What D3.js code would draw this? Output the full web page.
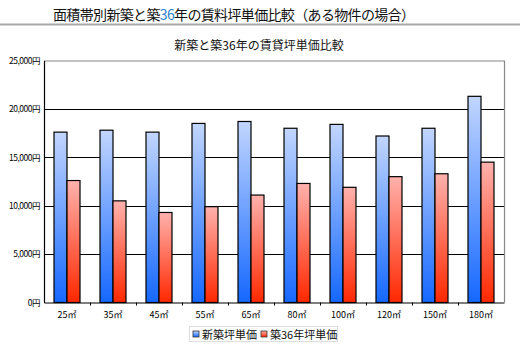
<!DOCTYPE html>
<html><head><meta charset="utf-8">
<script src="https://cdn.jsdelivr.net/npm/d3@7"></script>
<style>
html,body{margin:0;padding:0;background:#fff;}
svg{display:block;}
text{font-family:"Noto Sans CJK JP","Liberation Sans",sans-serif;}
</style></head>
<body>
<script>
const categories = ["25㎡","35㎡","45㎡","55㎡","65㎡","80㎡","100㎡","120㎡","150㎡","180㎡"];
const newBuild = [17600,17800,17600,18500,18700,18000,18400,17200,18000,21300];
const aged36 = [12600,10500,9300,9900,11100,12300,11900,13000,13300,14500];
const seriesNames = ["新築坪単価","築36年坪単価"];
const yTicks = [0,5000,10000,15000,20000,25000];

(function(){
const W = 520, H = 347;
const svg = d3.select("body").append("svg").attr("width", W).attr("height", H);

const defs = svg.append("defs");
function grad(id, c1, c2){
  const g = defs.append("linearGradient").attr("id", id).attr("x1",0).attr("y1",0).attr("x2",0).attr("y2",1);
  g.append("stop").attr("offset","0%").attr("stop-color",c1);
  g.append("stop").attr("offset","100%").attr("stop-color",c2);
}
grad("gBlue", "#c2d6ff", "#1568ff");
grad("gRed", "#ffb2ad", "#ff2800");

// page title
const title = svg.append("text").attr("x", 53).attr("y", 20).attr("font-size", 14)
  .attr("fill", "#111").attr("textLength", 362).attr("lengthAdjust", "spacing");
title.append("tspan").text("面積帯別新築と築");
title.append("tspan").attr("fill", "#2a7fd0").text("36");
title.append("tspan").text("年の賃料坪単価比較（ある物件の場合）");
svg.append("rect").attr("x",0).attr("y",23.5).attr("width",W).attr("height",2).attr("fill","#a8a8a8");

// chart title
svg.append("text").attr("x", 259).attr("y", 50).attr("text-anchor","middle")
  .attr("font-size", 12).attr("fill","#111").text("新築と築36年の賃貸坪単価比較");

const pL = 44, pR = 504, pT = 60.5, pB = 302.5;
const x = d3.scaleBand().domain(categories).range([pL, pR]).paddingInner(0).paddingOuter(0);
const y = d3.scaleLinear().domain([0, 25000]).range([pB, pT]);
const bw = 13;

// gridlines
svg.append("g").selectAll("line").data(yTicks.filter(d => d > 0 && d < 25000)).join("line")
  .attr("x1", pL).attr("x2", pR).attr("y1", d => Math.round(y(d))+0.5).attr("y2", d => Math.round(y(d))+0.5)
  .attr("stroke","#000").attr("stroke-width",1.2);
// top & right border gray
svg.append("path").attr("d", `M${pL},${pT+0.5}H${pR+0.5}V${pB}`)
  .attr("fill","none").attr("stroke","#888").attr("stroke-width",1.2);

// bars
const grp = svg.append("g");
categories.forEach((c, i) => {
  const cx = x(c) + x.bandwidth()/2;
  grp.append("rect").attr("x", cx - bw).attr("y", y(newBuild[i])).attr("width", bw)
    .attr("height", y(0) - y(newBuild[i])).attr("fill","url(#gBlue)").attr("stroke","#000").attr("stroke-width",1.2);
  grp.append("rect").attr("x", cx).attr("y", y(aged36[i])).attr("width", bw)
    .attr("height", y(0) - y(aged36[i])).attr("fill","url(#gRed)").attr("stroke","#000").attr("stroke-width",1.2);
});

// axes
const yAxis = d3.axisLeft(y).tickValues(yTicks).tickSize(0).tickPadding(4)
  .tickFormat(d => d3.format(",")(d) + "円");
const gy = svg.append("g").attr("transform", `translate(${pL},0)`).call(yAxis);
gy.select(".domain").attr("stroke","#000").attr("stroke-width",1.2);
gy.selectAll("text").attr("font-size", 8.5).attr("fill","#000").attr("font-family","'Liberation Sans',Arial,sans-serif").attr("letter-spacing","-0.5");

const xAxis = d3.axisBottom(x).tickSize(0).tickPadding(9);
const gx = svg.append("g").attr("transform", `translate(0,${pB})`).call(xAxis);
gx.select(".domain").attr("stroke","#000").attr("stroke-width",1.2);
gx.selectAll("text").attr("font-size", 9).attr("fill","#000");
// boundary tick marks
gx.append("g").selectAll("line").data(categories.slice(1)).join("line")
  .attr("x1", d => x(d)+0.5).attr("x2", d => x(d)+0.5).attr("y1", 0).attr("y2", 3)
  .attr("stroke","#000");

// legend
const lg = svg.append("g");
lg.append("rect").attr("x",189.5).attr("y",326.5).attr("width",148).attr("height",15)
  .attr("fill","#fff").attr("stroke","#ddd");
const items = [{n:seriesNames[0], f:"url(#gBlue)", x:193},{n:seriesNames[1], f:"url(#gRed)", x:261}];
items.forEach(it => {
  lg.append("rect").attr("x", it.x).attr("y", 331).attr("width",6).attr("height",6)
    .attr("fill", it.f).attr("stroke","#333").attr("stroke-width",0.8);
  lg.append("text").attr("x", it.x + 9).attr("y", 338.5).attr("font-size", 11).attr("fill","#111").text(it.n);
});
})();
</script>
</body></html>
